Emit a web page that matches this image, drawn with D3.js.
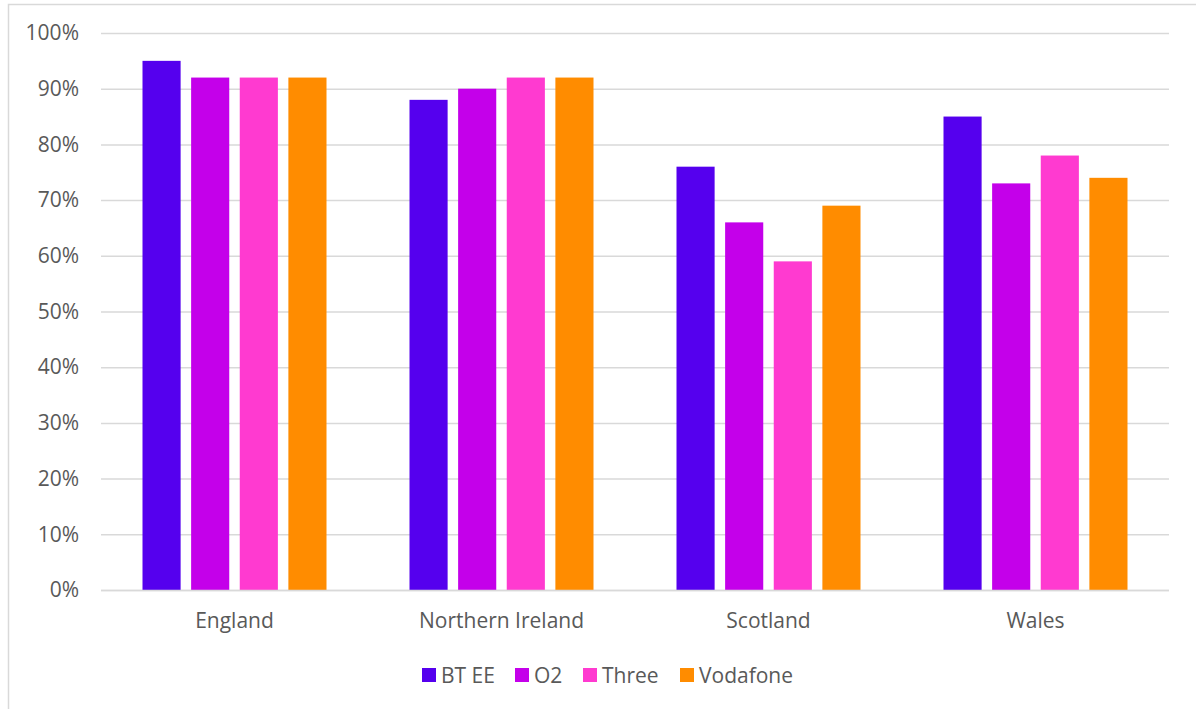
<!DOCTYPE html>
<html>
<head>
<meta charset="utf-8">
<script src="https://cdn.jsdelivr.net/npm/d3@7"></script>
<style>
  body { margin: 0; background: #fff; }
  text { font-family: "Open Sans", sans-serif; fill: #595959; }
</style>
</head>
<body>
<svg></svg>
<script>
/* data */
let regions = ["England", "Northern Ireland", "Scotland", "Wales"];
let operators = ["BT EE", "O2", "Three", "Vodafone"];
let btee = [95, 88, 76, 85];
let o2 = [92, 90, 66, 73];
let three = [92, 92, 59, 78];
let vodafone = [92, 92, 69, 74];
let yTicks = [0, 10, 20, 30, 40, 50, 60, 70, 80, 90, 100];
let colors = ["#5500ee", "#c400ea", "#ff3ad0", "#ff8c00"];

let seriesValues = [btee, o2, three, vodafone];

/* basic setup */
let svgWidth = 1196;
let svgHeight = 709;
const svg = d3.select("svg")
    .attr("width", svgWidth)
    .attr("height", svgHeight);

// chart frame (only top + left edges show)
svg.append("path")
    .attr("d", "M8.5,709 V4.5 H1196")
    .attr("fill", "none")
    .attr("stroke", "#d9d9d9")
    .attr("stroke-width", 1.5);

let plot = { left: 101, right: 1169, top: 33, bottom: 590 };

let x0 = d3.scaleBand()
    .domain(regions)
    .range([plot.left, plot.right]);

let groupPad = (x0.bandwidth() - 184) / 2;
let x1 = d3.scaleBand()
    .domain(operators)
    .range([groupPad, x0.bandwidth() - groupPad])
    .paddingInner(0.216);

let y = d3.scaleLinear()
    .domain([0, 100])
    .range([plot.bottom, plot.top]);

/* gridlines + y labels */
let yAxis = d3.axisLeft(y)
    .tickValues(yTicks)
    .tickSize(-(plot.right - plot.left))
    .tickPadding(22)
    .tickFormat(d => d + "%");

let gy = svg.append("g")
    .attr("transform", "translate(" + plot.left + ",0)")
    .call(yAxis);
gy.select(".domain").remove();
gy.selectAll("line").attr("stroke", "#d9d9d9").attr("stroke-width", 1.5);
gy.selectAll("text")
    .style("font-size", "21px")
    .style("fill", "#595959")
    .style("font-family", "'Open Sans', sans-serif");

/* bars */
let groups = svg.selectAll("g.region")
    .data(regions)
    .enter()
    .append("g")
    .attr("class", "region")
    .attr("transform", d => "translate(" + x0(d) + ",0)");

groups.selectAll("rect")
    .data((d, i) => operators.map((op, j) => ({ op: op, j: j, v: seriesValues[j][i] })))
    .enter()
    .append("rect")
    .attr("x", d => x1(d.op))
    .attr("y", d => y(d.v))
    .attr("width", x1.bandwidth())
    .attr("height", d => y(0) - y(d.v))
    .attr("fill", d => colors[d.j]);

/* x labels */
let xAxis = d3.axisBottom(x0).tickSize(0).tickPadding(23);
let gx = svg.append("g")
    .attr("transform", "translate(0," + plot.bottom + ")")
    .call(xAxis);
gx.select(".domain").remove();
gx.selectAll("text")
    .style("font-size", "21px")
    .style("fill", "#595959")
    .style("font-family", "'Open Sans', sans-serif");

// baseline over bars
svg.append("line")
    .attr("x1", plot.left).attr("x2", plot.right)
    .attr("y1", plot.bottom + 0.5).attr("y2", plot.bottom + 0.5)
    .attr("stroke", "#d9d9d9").attr("stroke-width", 1.5);

/* legend */
let legendX = [422, 515, 583, 680];
let legend = svg.selectAll("g.legend")
    .data(operators)
    .enter()
    .append("g")
    .attr("class", "legend")
    .attr("transform", (d, i) => "translate(" + legendX[i] + ",668)");

legend.append("rect")
    .attr("width", 14)
    .attr("height", 14)
    .attr("fill", (d, i) => colors[i]);

legend.append("text")
    .attr("x", 19)
    .attr("y", 14.5)
    .style("font-size", "21px")
    .text(d => d);
</script>
</body>
</html>
